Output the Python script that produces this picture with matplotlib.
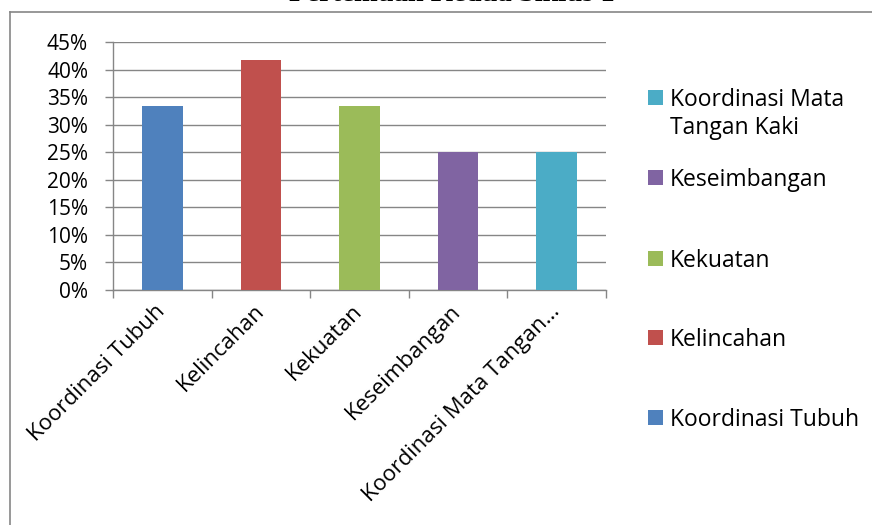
import matplotlib.pyplot as plt
from matplotlib.lines import Line2D
from matplotlib.patches import Rectangle
from matplotlib.ticker import FixedLocator, PercentFormatter

categories = ['Koordinasi Tubuh', 'Kelincahan', 'Kekuatan', 'Keseimbangan',
              'Koordinasi Mata Tangan Kaki']
tick_labels = ['Koordinasi Tubuh', 'Kelincahan', 'Kekuatan', 'Keseimbangan',
               'Koordinasi Mata Tangan\u2026']
legend_labels = ['Koordinasi Tubuh', 'Kelincahan', 'Kekuatan', 'Keseimbangan',
                 'Koordinasi Mata\nTangan Kaki']
values = [0.333, 0.417, 0.333, 0.25, 0.25]
colors = ['#4F81BD', '#C0504D', '#9BBB59', '#8064A2', '#4BACC6']
title = 'Pertemuan Kedua Siklus 1'

plt.rcParams['font.family'] = ['Open Sans', 'DejaVu Sans']
grey = '#868686'
W, H = 872, 525

fig = plt.figure(figsize=(W / 100, H / 100), dpi=100)
ax = fig.add_axes([113 / W, 1 - 290 / H, (606 - 113) / W, (290 - 42) / H])

x = list(range(len(categories)))
ax.bar(x, values, width=0.41, color=colors, zorder=3)

ax.set_xlim(-0.5, len(categories) - 0.5)
ax.set_ylim(0, 0.45)
ax.yaxis.set_major_locator(FixedLocator([i * 0.05 for i in range(10)]))
ax.yaxis.set_major_formatter(PercentFormatter(1.0, decimals=0))
ax.grid(axis='y', color=grey, linewidth=1, zorder=0)

ax.set_xticks(x)
ax.set_xticklabels(tick_labels, rotation=45, ha='right', va='center',
                   rotation_mode='anchor')
ax.set_xticks([i - 0.5 for i in range(len(categories) + 1)], minor=True)
ax.tick_params(axis='x', which='major', length=0, pad=13, labelsize=16)
ax.tick_params(axis='x', which='minor', length=6, color=grey, width=1)
ax.tick_params(axis='y', length=6, color=grey, width=1, labelsize=15, pad=12)

for s in ['top', 'right']:
    ax.spines[s].set_visible(False)
for s in ['left', 'bottom']:
    ax.spines[s].set_color(grey)
    ax.spines[s].set_linewidth(1)

# legend, reversed order, evenly spaced slots like the original
leg_y = [417, 337, 258, 177, 97]
for lab, c, yy in zip(legend_labels, colors, leg_y):
    fig.add_artist(Rectangle((648 / W, 1 - (yy + 7.5) / H), 15 / W, 15 / H,
                             facecolor=c, edgecolor='none'))
    fig.text(670 / W, 1 - (yy - 9) / H, lab, ha='left', va='top',
             fontsize=16.5, linespacing=1.2)

# chart border, partly outside the picture
fig.add_artist(Line2D([10 / W, 1.0], [1 - 12 / H, 1 - 12 / H],
                      color=grey, linewidth=1.2))
fig.add_artist(Line2D([10 / W, 10 / W], [0.0, 1 - 12 / H],
                      color=grey, linewidth=1.2))

# title is clipped at the top edge in the original
fig.text(452 / W, 1 - 1 / H, title, ha='center', va='baseline',
         fontsize=20.5, fontweight='bold', family='Liberation Serif')

fig.savefig('out.png', dpi=100)
